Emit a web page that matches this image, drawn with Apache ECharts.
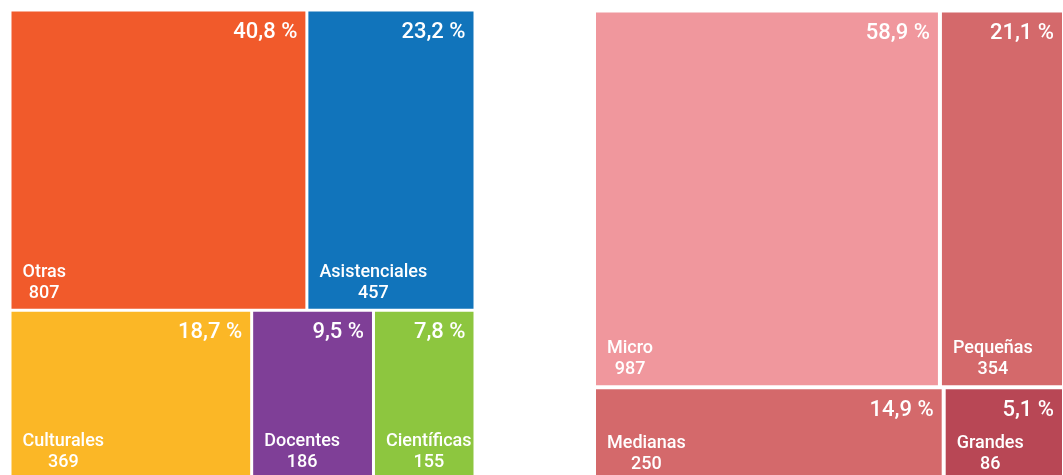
<!DOCTYPE html>
<html>
<head>
<meta charset="utf-8">
<script src="https://cdn.jsdelivr.net/npm/echarts@6/dist/echarts.min.js"></script>
<style>
  html, body { margin: 0; padding: 0; background: #fff; }
  #chart { width: 1063px; height: 475px; }
</style>
</head>
<body>
<div id="chart"></div>
<script>
// tipos de entidades
const tipoNames = ['Otras', 'Asistenciales', 'Culturales', 'Docentes', 'Científicas']
const tipoValues = [807, 457, 369, 186, 155]
const tipoPct = [40.8, 23.2, 18.7, 9.5, 7.8]
const tipoColors = ['#f15a2b', '#1174bb', '#fbb726', '#7f3f97', '#8dc63f']

// tamaño de empresas
const tamNames = ['Micro', 'Pequeñas', 'Medianas', 'Grandes']
const tamValues = [987, 354, 250, 86]
const tamPct = [58.9, 21.1, 14.9, 5.1]
const tamColors = ['#f0979d', '#d4696b', '#d4696b', '#b84755']

const FONT = 'Roboto, "Liberation Sans", sans-serif'

const fmtPct = (v) => v.toFixed(1).replace('.', ',') + ' %'

const buildData = (names, values, pct, colors, transparent) =>
  names.map((n, i) => ({
    name: n,
    value: values[i],
    pct: fmtPct(pct[i]),
    itemStyle: { color: transparent ? 'rgba(0,0,0,0)' : colors[i] }
  }))

// serie base: rectángulos + nombre/valor abajo a la izquierda
const baseSeries = (data, box, bw, ratio) => ({
  type: 'treemap',
  ...box,
  squareRatio: ratio,
  roam: false,
  nodeClick: false,
  breadcrumb: { show: false },
  animation: false,
  itemStyle: { borderColor: '#fff', borderWidth: bw, gapWidth: 0 },
  label: {
    show: true,
    position: 'insideBottomLeft',
    padding: 0,
    overflow: 'none',
    color: '#fff',
    fontFamily: FONT,
    fontWeight: 500,
    fontSize: 18,
    lineHeight: 21,
    formatter: (p) => p.name + '\n' + p.value
  },
  labelLayout: (p) => ({
    x: p.rect.x + 11 + p.labelRect.width / 2,
    y: p.rect.y + p.rect.height - 5,
    align: 'center',
    verticalAlign: 'bottom'
  }),
  data
})

// serie superpuesta: solo el porcentaje arriba a la derecha
const pctSeries = (data, box, bw, ratio) => ({
  type: 'treemap',
  ...box,
  squareRatio: ratio,
  roam: false,
  nodeClick: false,
  silent: true,
  breadcrumb: { show: false },
  animation: false,
  itemStyle: { borderColor: 'rgba(0,0,0,0)', borderWidth: bw, gapWidth: 0 },
  label: {
    show: true,
    position: 'insideTopRight',
    padding: [10, 8, 0, 0],
    overflow: 'none',
    color: '#fff',
    fontFamily: FONT,
    fontWeight: 500,
    fontSize: 22,
    formatter: (p) => p.data.pct
  },
  data
})

const leftBox = { left: 8.5, top: 8.5, width: 468, height: 472 }
const rightBox = { left: 592, top: 8.5, width: 474, height: 475 }

const mChart = echarts.init(document.getElementById('chart'))
mChart.setOption({
  backgroundColor: '#fff',
  series: [
    baseSeries(buildData(tipoNames, tipoValues, tipoPct, tipoColors, false), leftBox, 1.5, 1),
    pctSeries(buildData(tipoNames, tipoValues, tipoPct, tipoColors, true), leftBox, 1.5, 1),
    baseSeries(buildData(tamNames, tamValues, tamPct, tamColors, false), rightBox, 2, 1.618),
    pctSeries(buildData(tamNames, tamValues, tamPct, tamColors, true), rightBox, 2, 1.618)
  ]
})
</script>
</body>
</html>
